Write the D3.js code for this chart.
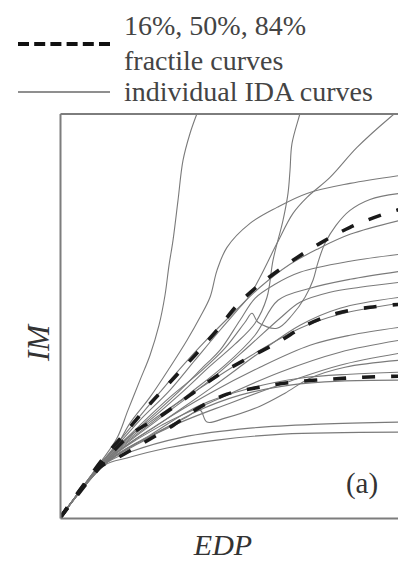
<!DOCTYPE html>
<html><head><meta charset="utf-8">
<script src="https://cdn.jsdelivr.net/npm/d3@7"></script>
<style>html,body{margin:0;padding:0;background:#fff;}svg{display:block;}</style>
</head><body>
<script>
// Axis extents (EDP as drift %, IM as spectral acceleration)
const edpDomain = [0, 3.38];
const imDomain = [0, 4.05];

// Legend / labels
const legendLabels = ["16%, 50%, 84%", "fractile curves", "individual IDA curves"];
const xLabel = "EDP", yLabel = "IM", panelTag = "(a)";

// Fractile curves [EDP, IM]
const p84 = [[0,0],[0.42,0.58],[0.65,0.85],[0.87,1.11],[1.10,1.36],[1.35,1.63],[1.57,1.88],[1.78,2.14],[2.00,2.34],[2.30,2.56],[2.60,2.75],[2.90,2.91],[3.23,3.04],[3.40,3.09]];
const p50 = [[0,0],[0.44,0.56],[0.70,0.83],[1.02,1.03],[1.30,1.23],[1.58,1.43],[1.88,1.60],[2.18,1.76],[2.48,1.94],[2.77,2.05],[3.10,2.11],[3.40,2.14]];
const p16 = [[0,0],[0.40,0.51],[0.57,0.60],[0.83,0.75],[1.12,0.92],[1.40,1.11],[1.67,1.24],[2.00,1.31],[2.33,1.36],[2.70,1.39],[3.03,1.41],[3.40,1.42]];

// Individual IDA curves [EDP, IM]
const ida01 = [[0,0],[0.40,0.55],[0.57,0.80],[0.68,1.08],[0.80,1.38],[0.90,1.63],[0.99,1.93],[1.05,2.23],[1.09,2.53],[1.13,2.78],[1.18,3.18],[1.23,3.58],[1.30,3.85],[1.37,4.05],[1.40,4.13]];
const ida02 = [[0,0],[0.42,0.56],[0.60,0.74],[0.90,0.98],[1.20,1.24],[1.50,1.52],[1.75,1.74],[1.95,1.95],[2.07,2.21],[2.13,2.58],[2.23,2.98],[2.28,3.25],[2.30,3.48],[2.32,3.75],[2.40,4.05],[2.42,4.13]];
const ida03 = [[0,0],[0.41,0.55],[0.55,0.70],[0.80,0.98],[1.10,1.28],[1.35,1.58],[1.60,1.88],[1.80,2.11],[1.90,2.23],[2.00,2.41],[2.17,2.75],[2.33,3.05],[2.47,3.21],[2.70,3.41],[2.97,3.71],[3.30,4.01],[3.45,4.13]];
const ida04 = [[0,0],[0.41,0.55],[0.57,0.73],[0.70,0.95],[0.90,1.21],[1.10,1.51],[1.27,1.78],[1.40,2.01],[1.50,2.21],[1.57,2.48],[1.67,2.71],[1.90,2.95],[2.17,3.11],[2.47,3.25],[2.90,3.35],[3.40,3.43]];
const ida05 = [[0,0],[0.43,0.56],[0.80,0.93],[1.10,1.21],[1.40,1.46],[1.65,1.70],[1.85,1.96],[1.92,2.05],[1.98,1.96],[2.17,1.90],[2.32,2.03],[2.45,2.21],[2.53,2.38],[2.58,2.56],[2.65,2.75],[2.76,2.93],[2.90,3.08],[3.10,3.19],[3.40,3.25]];
const ida06 = [[0,0],[0.42,0.56],[0.75,0.96],[1.00,1.26],[1.25,1.55],[1.50,1.82],[1.75,2.07],[2.00,2.31],[2.30,2.54],[2.57,2.69],[2.90,2.84],[3.40,2.98]];
const ida07 = [[0,0],[0.44,0.56],[0.80,0.91],[1.15,1.23],[1.45,1.53],[1.60,1.68],[1.80,1.98],[1.95,2.20],[2.15,2.34],[2.40,2.46],[2.90,2.57],[3.40,2.64]];
const ida08 = [[0,0],[0.44,0.56],[0.90,0.94],[1.30,1.25],[1.65,1.53],[1.95,1.83],[2.18,2.18],[2.50,2.30],[2.90,2.39],[3.40,2.47]];
const ida09 = [[0,0],[0.45,0.56],[1.00,1.00],[1.50,1.38],[1.90,1.73],[2.20,2.00],[2.40,2.16],[2.70,2.26],[3.00,2.31],[3.40,2.36]];
const ida10 = [[0,0],[0.45,0.56],[1.05,0.98],[1.55,1.33],[2.00,1.66],[2.40,1.93],[2.80,2.10],[3.40,2.21]];
const ida11 = [[0,0],[0.44,0.56],[0.90,0.96],[1.40,1.30],[1.90,1.62],[2.40,1.90],[2.80,2.04],[3.40,2.15]];
const ida12 = [[0,0],[0.45,0.56],[1.00,0.95],[1.50,1.25],[2.00,1.51],[2.50,1.73],[2.90,1.83],[3.40,1.91]];
const ida13 = [[0,0],[0.46,0.56],[1.00,0.92],[1.60,1.20],[2.20,1.46],[2.80,1.66],[3.40,1.78]];
const ida14 = [[0,0],[0.46,0.55],[1.10,0.91],[1.70,1.15],[2.30,1.37],[2.80,1.53],[3.40,1.65]];
const ida15 = [[0,0],[0.45,0.55],[0.90,0.83],[1.40,1.13],[1.90,1.30],[2.40,1.40],[2.90,1.44],[3.40,1.46]];
const ida16 = [[0,0],[0.46,0.55],[0.85,0.78],[1.35,1.06],[1.80,1.23],[2.30,1.33],[2.80,1.37],[3.40,1.38]];
const ida17 = [[0,0],[0.46,0.55],[0.90,0.82],[1.25,1.00],[1.40,1.08],[1.47,0.96],[1.65,1.00],[2.00,1.12],[2.25,1.25],[2.50,1.40],[2.85,1.51],[3.40,1.58]];
const ida18 = [[0,0],[0.45,0.54],[0.70,0.66],[1.23,0.81],[1.90,0.90],[2.60,0.94],[3.40,0.96]];
const ida19 = [[0,0],[0.45,0.53],[0.67,0.60],[1.07,0.70],[1.57,0.78],[2.23,0.84],[3.40,0.86]];
const idaCurves = [ida01,ida02,ida03,ida04,ida05,ida06,ida07,ida08,ida09,ida10,ida11,ida12,ida13,ida14,ida15,ida16,ida17,ida18,ida19];
const fractiles = [p16, p50, p84];

const W = 398, H = 561;
const m = {left: 60, top: 113.5, right: 0, bottom: 43};
const x = d3.scaleLinear().domain(edpDomain).range([m.left, W - m.right]);
const y = d3.scaleLinear().domain(imDomain).range([H - m.bottom, m.top]);

const svg = d3.select("body").append("svg").attr("width", W).attr("height", H);
const serif = "'Liberation Serif','Times New Roman',serif";

svg.append("clipPath").attr("id", "plotclip").append("rect")
  .attr("x", x(0)).attr("y", y(imDomain[1])).attr("width", W - x(0)).attr("height", y(0) - y(imDomain[1]));

const line = d3.line().x(d => x(d[0])).y(d => y(d[1])).curve(d3.curveCatmullRom.alpha(0.5));
const plot = svg.append("g").attr("clip-path", "url(#plotclip)");

plot.selectAll("path.ida").data(idaCurves).join("path").attr("class", "ida")
  .attr("d", line).attr("fill", "none").attr("stroke", "#7a7a7a").attr("stroke-width", 1.1);

plot.selectAll("path.frac").data(fractiles).join("path").attr("class", "frac")
  .attr("d", line).attr("fill", "none").attr("stroke", "#1a1a1a").attr("stroke-width", 3.6)
  .attr("stroke-dasharray", "13,16").attr("stroke-linecap", "butt");

// Frame (axes without ticks)
const xAxis = d3.axisBottom(x).tickValues([]).tickSizeOuter(0);
const yAxis = d3.axisLeft(y).tickValues([]).tickSizeOuter(0);
const gx = svg.append("g").attr("transform", `translate(0,${y(0)})`).call(xAxis);
const gy = svg.append("g").attr("transform", `translate(${x(0)},0)`).call(yAxis);
const gt = svg.append("g").attr("transform", `translate(0,${y(imDomain[1])})`).call(d3.axisTop(x).tickValues([]).tickSizeOuter(0));
[gx, gy, gt].forEach(g => g.select(".domain").attr("stroke", "#7d7d7d").attr("stroke-width", 2));

// Axis labels
svg.append("text").attr("x", 223).attr("y", 555).attr("text-anchor", "middle")
  .attr("font-family", serif).attr("font-style", "italic").attr("font-size", 30).attr("fill", "#333").text(xLabel);
svg.append("text").attr("transform", "translate(49,343) rotate(-90)").attr("text-anchor", "middle")
  .attr("font-family", serif).attr("font-style", "italic").attr("font-size", 31).attr("fill", "#333").text(yLabel);
svg.append("text").attr("x", 362).attr("y", 493).attr("text-anchor", "middle")
  .attr("font-family", serif).attr("font-size", 29).attr("fill", "#333").text(panelTag);

// Legend
const lg = svg.append("g");
lg.append("line").attr("x1", 18).attr("x2", 110).attr("y1", 44).attr("y2", 44)
  .attr("stroke", "#111").attr("stroke-width", 4).attr("stroke-dasharray", "11,5.2");
lg.append("line").attr("x1", 18).attr("x2", 110).attr("y1", 92).attr("y2", 92)
  .attr("stroke", "#6a6a6a").attr("stroke-width", 1.4);
const ly = [35, 70, 101];
lg.selectAll("text").data(legendLabels).join("text")
  .attr("x", 124).attr("y", (d, i) => ly[i])
  .attr("font-family", serif).attr("font-size", 28).attr("fill", "#444").text(d => d);
</script>
</body></html>
